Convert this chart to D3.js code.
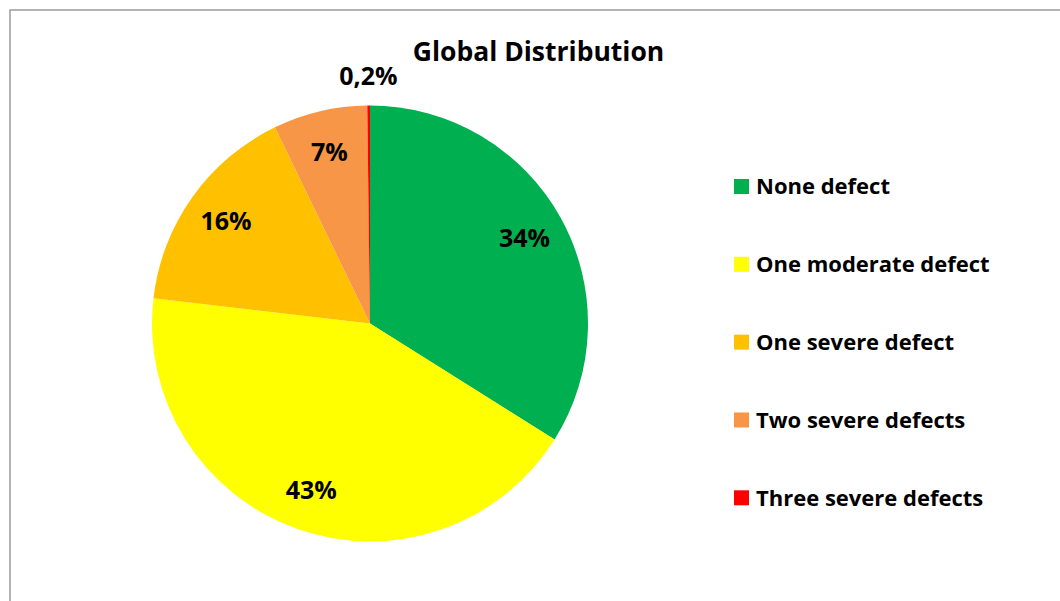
<!DOCTYPE html>
<html>
<head>
<meta charset="utf-8">
<script src="https://cdn.jsdelivr.net/npm/d3@7"></script>
<style>
  html, body { margin: 0; padding: 0; background: #fff; }
  svg { display: block; font-family: "Open Sans", Lato, sans-serif; font-weight: 700; }
</style>
</head>
<body>
<div id="chart"></div>
<script>
// Share of each defect class, in percent
const categories = ["None defect", "One moderate defect", "One severe defect", "Two severe defects", "Three severe defects"];
const shares = [34, 43, 16, 7, 0.2];
const sliceLabels = ["34%", "43%", "16%", "7%", "0,2%"];
const colors = ["#00B050", "#FFFF00", "#FFC000", "#F79646", "#FF0000"];
const chartTitle = "Global Distribution";

const W = 1060, H = 601;
const svg = d3.select("#chart").append("svg").attr("width", W).attr("height", H);

// chart area frame (runs off the right and bottom edges)
svg.append("rect")
  .attr("x", 10).attr("y", 10)
  .attr("width", W + 20).attr("height", H + 20)
  .attr("fill", "#fff")
  .attr("stroke", "#9a9a9a")
  .attr("stroke-width", 1.5);

// title
svg.append("text")
  .attr("x", 538.5).attr("y", 61)
  .attr("text-anchor", "middle")
  .attr("font-size", 26.5)
  .attr("fill", "#000")
  .text(chartTitle);

// pie
const cx = 370, cy = 323.5, r = 218;
const pie = d3.pie().sort(null).value(d => d);
const arcs = pie(shares);
const arc = d3.arc().innerRadius(0).outerRadius(r);
const insideArc = d3.arc().innerRadius(r * 0.81).outerRadius(r * 0.81);
const outsideArc = d3.arc().innerRadius(r * 1.135).outerRadius(r * 1.135);

const g = svg.append("g").attr("transform", `translate(${cx},${cy})`);
g.selectAll("path.slice")
  .data(arcs)
  .join("path")
  .attr("class", "slice")
  .attr("d", arc)
  .attr("fill", (d, i) => colors[i]);

// data labels: inside the slice, or just outside for very thin slices
g.selectAll("text.value")
  .data(arcs)
  .join("text")
  .attr("class", "value")
  .attr("transform", d => {
    const [x, y] = (d.data < 1 ? outsideArc : insideArc).centroid(d);
    return `translate(${x},${y})`;
  })
  .attr("text-anchor", "middle")
  .attr("dy", "0.358em")
  .attr("font-size", 25)
  .attr("fill", "#000")
  .text((d, i) => sliceLabels[i]);

// legend
const legendY = d3.scalePoint().domain(categories).range([186.5, 497.8]);
const legend = svg.append("g");
const items = legend.selectAll("g.item")
  .data(categories)
  .join("g")
  .attr("class", "item")
  .attr("transform", d => `translate(734,${legendY(d)})`);
items.append("rect")
  .attr("x", 0).attr("y", -7.5)
  .attr("width", 15).attr("height", 15)
  .attr("fill", (d, i) => colors[i]);
items.append("text")
  .attr("x", 22).attr("y", 7.8)
  .attr("font-size", 22)
  .attr("fill", "#000")
  .text(d => d);
</script>
</body>
</html>
